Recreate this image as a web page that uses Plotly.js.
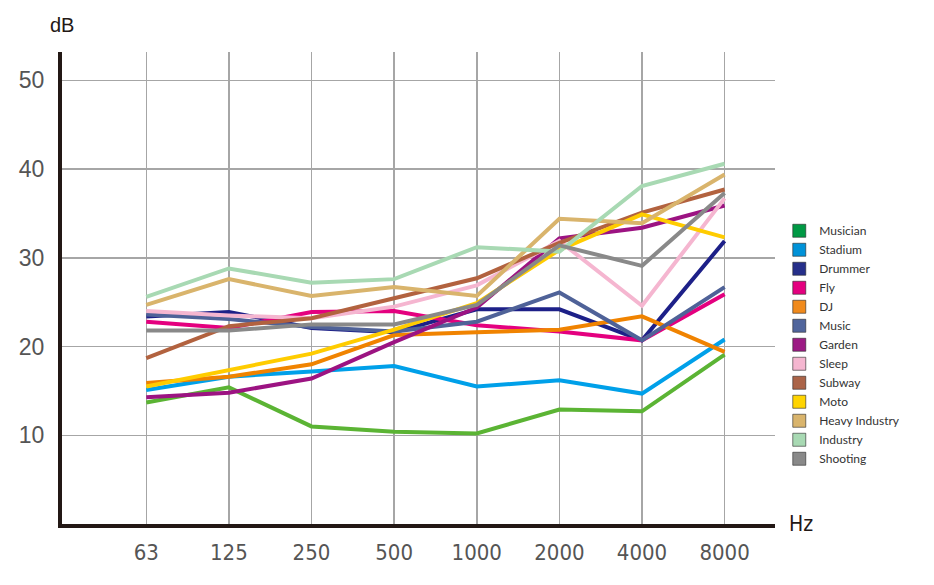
<!DOCTYPE html>
<html>
<head>
<meta charset="utf-8">
<script src="https://cdn.plot.ly/plotly-3.0.1.min.js"></script>
<style>html,body{margin:0;padding:0;background:#fff;}#chart{width:934px;height:585px;}</style>
</head>
<body>
<div id="chart"></div>
<script>
const frequencies = ["63","125","250","500","1000","2000","4000","8000"];
const seriesNames = ["Musician","Stadium","Drummer","Fly","DJ","Music","Garden","Sleep","Subway","Moto","Heavy Industry","Industry","Shooting"];
const musician      = [13.7, 15.4, 11.0, 10.4, 10.2, 12.9, 12.7, 19.1];
const stadium       = [15.1, 16.6, 17.2, 17.8, 15.5, 16.2, 14.7, 20.8];
const drummer       = [23.4, 23.9, 22.1, 21.6, 24.2, 24.2, 20.7, 31.9];
const fly           = [22.8, 22.1, 23.9, 24.0, 22.4, 21.7, 20.7, 25.9];
const dj            = [15.9, 16.6, 18.0, 21.3, 21.6, 21.9, 23.4, 19.4];
const music         = [23.6, 23.1, 22.2, 21.7, 22.8, 26.1, 20.7, 26.7];
const garden        = [14.3, 14.8, 16.4, 20.5, 24.4, 32.2, 33.4, 35.9];
const sleep         = [24.0, 23.5, 23.2, 24.5, 26.9, 31.9, 24.6, 36.7];
const subway        = [18.7, 22.3, 23.2, 25.4, 27.7, 31.7, 35.1, 37.7];
const moto          = [15.5, 17.4, 19.2, 21.9, 24.9, 30.9, 34.9, 32.3];
const heavyIndustry = [24.7, 27.6, 25.7, 26.7, 25.7, 34.4, 33.9, 39.4];
const industry      = [25.6, 28.8, 27.2, 27.6, 31.2, 30.7, 38.1, 40.6];
const shooting      = [21.8, 21.8, 22.5, 22.5, 24.7, 31.4, 29.1, 37.3];
const yTickValues = [10, 20, 30, 40, 50];

const allSeries = [musician, stadium, drummer, fly, dj, music, garden, sleep, subway, moto, heavyIndustry, industry, shooting];
const lineColors = ["#5bb434","#00a0e9","#1d2088","#e4007f","#f08300","#4f6298","#9c1382","#f5b6d0","#b2623f","#ffcc00","#d9b46c","#a8d9b3","#898989"];
const legendColors = ["#009944","#0092d8","#262f8a","#e4007f","#f08a1c","#50659c","#9c1a84","#f5b6d0","#ab6448","#ffd400","#d9b46c","#a8d9b3","#898989"];

const traces = [];
allSeries.forEach((vals, i) => {
  traces.push({
    type: "scatter", mode: "lines", x: frequencies, y: vals,
    name: seriesNames[i], showlegend: false,
    line: {color: lineColors[i], width: 4}, hoverinfo: "skip"
  });
});
seriesNames.forEach((nm, i) => {
  traces.push({
    type: "scatter", mode: "markers", x: [null], y: [null],
    name: nm, showlegend: true,
    marker: {symbol: "square", size: 13, color: legendColors[i], line: {color: "rgba(40,40,40,0.6)", width: 1}}
  });
});

const layout = {
  width: 934, height: 585,
  margin: {l: 62, r: 159, t: 52, b: 61},
  paper_bgcolor: "#fff", plot_bgcolor: "#fff",
  showlegend: true,
  legend: {
    x: 1.006, xanchor: "left", y: 0.652, yanchor: "top",
    font: {family: "Lato, 'Open Sans', sans-serif", size: 12, color: "#333"},
    tracegroupgap: 0, bgcolor: "rgba(0,0,0,0)", itemclick: false
  },
  xaxis: {
    type: "category", range: [-1.02, 7.61],
    showgrid: true, gridcolor: "#a6a6a6", gridwidth: 1.5,
    showline: true, linecolor: "#231815", linewidth: 4,
    ticks: "", zeroline: false,
    tickfont: {family: "'Liberation Sans Narrow', 'DejaVu Sans Condensed', sans-serif", size: 22, color: "#555"},
    ticklabelstandoff: 6
  },
  yaxis: {
    range: [0, 53.2], tickvals: yTickValues,
    showgrid: true, gridcolor: "#a6a6a6", gridwidth: 1.5,
    showline: true, linecolor: "#231815", linewidth: 4,
    ticks: "", zeroline: false,
    tickfont: {family: "'Liberation Sans', Arial, sans-serif", size: 23, color: "#555"},
    ticklabelstandoff: 9
  },
  annotations: [
    {text: "dB", xref: "paper", yref: "paper", x: 0, y: 1, yshift: 27, xanchor: "center", yanchor: "middle", showarrow: false,
     font: {family: "'Liberation Sans', Arial, sans-serif", size: 20, color: "#231815"}},
    {text: "Hz", xref: "paper", yref: "paper", x: 1, xshift: 12, y: 0, xanchor: "left", yanchor: "middle", showarrow: false,
     font: {family: "'Liberation Sans Narrow', 'DejaVu Sans Condensed', sans-serif", size: 21, color: "#231815"}}
  ]
};

Plotly.newPlot("chart", traces, layout, {staticPlot: true, displayModeBar: false});
</script>
</body>
</html>
